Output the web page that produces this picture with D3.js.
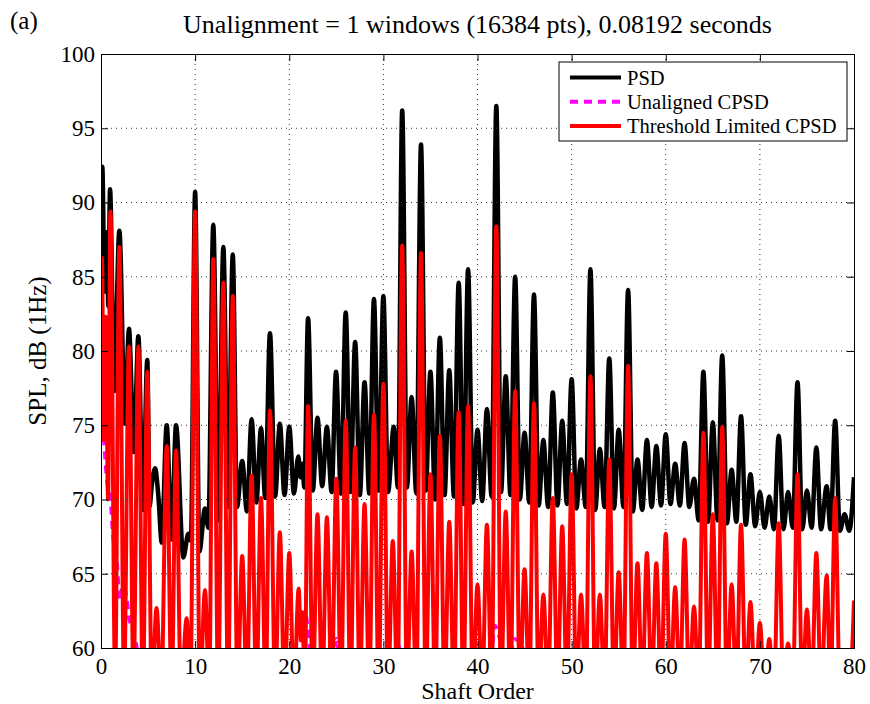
<!DOCTYPE html>
<html>
<head>
<meta charset="utf-8">
<script src="https://cdn.jsdelivr.net/npm/d3@7"></script>
<style>
  body { margin: 0; background: #fff; }
  svg { display: block; font-family: "Liberation Serif", "Times New Roman", serif; }
</style>
</head>
<body>
<div id="chart"></div>
<script>
// ===== DATA =====
const xTicks = [0, 10, 20, 30, 40, 50, 60, 70, 80];
const yTicks = [60, 65, 70, 75, 80, 85, 90, 95, 100];
const seriesNames = ["PSD", "Unaligned CPSD", "Threshold Limited CPSD"];
const titleText = "Unalignment = 1 windows (16384 pts), 0.08192 seconds";

// [shaft order, dB] peaks and troughs
const psd = [
  [0, 80], [0.14, 92.4], [0.38, 84], [0.6, 88], [0.78, 83], [0.96, 90.9], [1.4, 77.3], [1.95, 88.1],
  [2.55, 75.1], [2.97, 81.5], [3.5, 73.2], [3.97, 81.0], [4.45, 69.3], [4.92, 79.4], [5.15, 69.5],
  [5.4, 71], [5.74, 72.1], [6.1, 70.2], [6.45, 67.1], [6.98, 75.0], [7.5, 67.3], [7.97, 75.0],
  [8.75, 66.1], [9.28, 67.7], [9.55, 67.2], [10.0, 90.7], [10.45, 66.5], [11.05, 69.4], [11.4, 68.1],
  [11.93, 88.5], [12.46, 68.6], [13.0, 87.0], [13.5, 69.5], [14.0, 86.5], [14.45, 69.5], [15.0, 72.6],
  [15.5, 69.2], [16.0, 75.4], [16.5, 69.8], [17.0, 74.8], [17.45, 70.1], [17.95, 81.2], [18.5, 70.2],
  [19.0, 75.1], [19.5, 70.3], [20.0, 74.9], [20.5, 70.4], [20.96, 72.9], [21.2, 71.5], [21.4, 72.4],
  [21.6, 70.8], [22.0, 82.2], [22.5, 70.6], [23.0, 75.5], [23.5, 70.9], [24.0, 74.9], [24.5, 70.5],
  [24.97, 78.6], [25.5, 70.4], [26.0, 82.6], [26.5, 70.5], [27.0, 80.6], [27.5, 70.3], [28.0, 77.9],
  [28.5, 70.4], [29.0, 83.5], [29.5, 70.6], [30.0, 83.7], [30.5, 70.5], [31.1, 74.9], [31.55, 70.8],
  [32.0, 96.2], [32.5, 70.8], [33.0, 76.9], [33.5, 70.4], [34.0, 93.9], [34.5, 70.6], [35.0, 78.6],
  [35.5, 70.0], [36.0, 80.9], [36.5, 70.3], [37.0, 78.7], [37.5, 70.2], [38.0, 84.6], [38.5, 69.7],
  [39.0, 85.5], [39.5, 69.8], [40.0, 74.7], [40.5, 69.9], [41.0, 76.1], [41.5, 70.2], [42.0, 96.5],
  [42.5, 70.5], [43.0, 78.3], [43.5, 70.3], [44.0, 85.0], [44.5, 70.0], [45.0, 74.5], [45.5, 69.8],
  [46.0, 83.8], [46.5, 69.6], [47.0, 74.0], [47.5, 69.5], [48.0, 77.2], [48.5, 69.6], [49.0, 75.3],
  [49.5, 69.7], [50.0, 78.1], [50.5, 69.4], [51.0, 72.7], [51.5, 69.5], [52.0, 85.5], [52.5, 69.3],
  [53.0, 73.4], [53.5, 69.5], [54.0, 79.5], [54.5, 69.4], [55.0, 74.7], [55.5, 69.5], [56.0, 84.1],
  [56.5, 69.2], [57.0, 72.7], [57.5, 69.3], [58.0, 74.0], [58.5, 69.5], [59.0, 73.6], [59.5, 69.6],
  [60.0, 74.4], [60.5, 69.7], [61.0, 72.4], [61.5, 69.6], [62.0, 73.8], [62.5, 69.5], [63.0, 71.4],
  [63.5, 68.6], [64.0, 78.6], [64.5, 68.5], [65.0, 75.2], [65.5, 68.6], [66.0, 79.7], [66.5, 68.4],
  [67.0, 72.0], [67.5, 68.5], [68.0, 75.6], [68.5, 68.3], [69.0, 71.7], [69.5, 68.2], [70.0, 70.5],
  [70.5, 68.1], [71.0, 70.2], [71.5, 68.0], [72.0, 74.3], [72.5, 68.0], [73.0, 70.5], [73.5, 68.1],
  [74.0, 77.9], [74.5, 68.0], [75.0, 70.6], [75.5, 68.1], [76.0, 73.5], [76.5, 68.0], [77.1, 70.9],
  [77.5, 68.0], [78.0, 75.3], [78.5, 67.9], [79.0, 69.0], [79.5, 67.9], [80.0, 71.5]
];

const unaligned = [
  [0, 77], [0.1, 76.8], [0.35, 73.8], [0.7, 71], [1.0, 70.2], [1.3, 67.5], [1.6, 66.5], [2.0, 63.2],
  [2.3, 64.2], [2.6, 63.8], [3.0, 62.0], [3.4, 61.2], [3.8, 60.0], [4.3, 58.5], [5, 57], [20.8, 57],
  [21.3, 61], [21.7, 62.2], [22.2, 60], [22.6, 57], [24.4, 57], [25, 60.6], [25.6, 57], [30.8, 57],
  [31.5, 60.5], [32.2, 57], [41.2, 57], [41.8, 61.5], [42.5, 60.3], [43.3, 57], [43.8, 60.6],
  [44.6, 60.4], [45.5, 57], [80, 57]
];

const threshold = [
  [0, 79], [0.1, 86.3], [0.3, 74], [0.5, 82.3], [0.75, 70], [1.0, 89.4], [1.5, 58], [1.95, 87.0],
  [2.45, 58], [2.97, 80.3], [3.45, 58], [3.97, 80.3], [4.45, 57], [4.92, 78.6], [5.4, 57], [5.9, 62.7],
  [6.4, 57], [6.98, 73.6], [7.5, 57], [7.97, 73.3], [8.5, 57], [9.1, 62.0], [9.5, 57], [10.0, 89.4],
  [10.5, 57], [11.05, 63.9], [11.5, 57], [11.93, 86.2], [12.45, 57], [13.0, 84.6], [13.5, 57],
  [14.0, 83.7], [14.5, 57], [15.0, 66.2], [15.5, 57], [16.0, 71.6], [16.5, 57], [17.0, 70.1],
  [17.5, 57], [17.95, 76.0], [18.5, 57], [19.0, 67.8], [19.5, 57], [20.0, 66.4], [20.5, 57],
  [21.0, 64.0], [21.25, 60.5], [21.4, 62.4], [21.65, 57], [22.0, 76.3], [22.5, 57], [23.0, 69.0],
  [23.5, 57], [24.0, 68.8], [24.5, 57], [25.0, 71.4], [25.5, 57], [26.0, 75.3], [26.5, 57],
  [27.0, 73.5], [27.5, 57], [28.0, 69.7], [28.5, 57], [29.0, 75.7], [29.5, 57], [30.0, 77.8],
  [30.5, 57], [31.0, 67.2], [31.5, 57], [32.0, 87.1], [32.5, 57], [33.0, 66.5], [33.5, 57],
  [34.0, 86.6], [34.5, 57], [35.0, 71.7], [35.5, 57], [36.0, 74.3], [36.5, 57], [37.0, 68.5],
  [37.5, 57], [38.0, 75.9], [38.5, 57], [39.0, 76.3], [39.5, 57], [40.0, 64.3], [40.5, 57],
  [41.0, 68.3], [41.5, 57], [42.0, 88.4], [42.5, 57], [43.0, 69.2], [43.5, 57], [44.0, 77.3],
  [44.5, 57], [45.0, 65.3], [45.5, 57], [46.0, 76.5], [46.5, 57], [47.0, 63.6], [47.5, 57],
  [48.0, 70.1], [48.5, 57], [49.0, 68.2], [49.5, 57], [50.0, 71.7], [50.5, 57], [51.0, 63.6],
  [51.5, 57], [52.0, 78.3], [52.5, 57], [53.0, 63.6], [53.5, 57], [54.0, 72.7], [54.5, 57],
  [55.0, 65.1], [55.5, 57], [56.0, 79.0], [56.5, 57], [57.0, 65.7], [57.5, 57], [58.0, 66.4],
  [58.5, 57], [59.0, 65.7], [59.5, 57], [60.0, 67.7], [60.5, 57], [61.0, 64.1], [61.5, 57],
  [62.0, 67.3], [62.5, 57], [63.0, 62.8], [63.5, 57], [64.0, 74.5], [64.5, 57], [65.0, 69.0],
  [65.5, 57], [66.0, 74.9], [66.5, 57], [67.0, 64.3], [67.5, 57], [68.0, 68.3], [68.5, 57],
  [69.0, 63.1], [69.5, 57], [70.0, 61.7], [70.5, 57], [71.0, 60.6], [71.5, 57], [72.0, 68.4],
  [72.5, 57], [73.0, 60.3], [73.5, 57], [74.0, 71.7], [74.5, 57], [75.0, 62.6], [75.5, 57],
  [76.0, 66.4], [76.5, 57], [77.1, 64.9], [77.5, 57], [78.0, 70.1], [78.5, 57], [79.0, 59.5],
  [79.5, 57], [80.0, 63.2]
];

// ===== LAYOUT =====
const W = 870, H = 704;
const margin = { top: 54, right: 16, bottom: 56, left: 101 };
const width = W - margin.left - margin.right;
const height = H - margin.top - margin.bottom;

const svg = d3.select('#chart').append('svg')
  .attr('width', W)
  .attr('height', H);

const g = svg.append('g')
  .attr('transform', `translate(${margin.left},${margin.top})`);

const x = d3.scaleLinear().domain([0, 80]).range([0, width]);
const y = d3.scaleLinear().domain([60, 100]).range([height, 0]);

g.append('clipPath').attr('id', 'plot-clip')
  .append('rect').attr('width', width).attr('height', height);

const line = d3.line()
  .x(d => x(d[0]))
  .y(d => y(d[1]))
  .curve(d3.curveMonotoneX);

const plot = g.append('g').attr('clip-path', 'url(#plot-clip)');

// series, drawn in MATLAB plot order
plot.append('path').datum(psd)
  .attr('d', line).attr('fill', 'none')
  .attr('stroke', '#000').attr('stroke-width', 4.5).attr('stroke-linejoin', 'round');

plot.append('path').datum(unaligned)
  .attr('d', line).attr('fill', 'none')
  .attr('stroke', '#ff00ff').attr('stroke-width', 4).attr('stroke-dasharray', '8,6');

plot.append('path').datum(threshold)
  .attr('d', line).attr('fill', 'none')
  .attr('stroke', '#ff0000').attr('stroke-width', 4).attr('stroke-linejoin', 'round');

// dotted grid on top of the data
const grid = g.append('g').attr('fill', 'none').attr('stroke', '#333')
  .attr('stroke-width', 1).attr('stroke-dasharray', '1,4');
grid.selectAll('.vg').data(xTicks.slice(1, -1)).join('line')
  .attr('x1', d => x(d)).attr('x2', d => x(d)).attr('y1', 0).attr('y2', height);
grid.selectAll('.hg').data(yTicks.slice(1, -1)).join('line')
  .attr('y1', d => y(d)).attr('y2', d => y(d)).attr('x1', 0).attr('x2', width);

// axes with inward ticks, MATLAB style
const tickLen = 7;
const xAxis = g.append('g').attr('transform', `translate(0,${height})`)
  .call(d3.axisBottom(x).tickValues(xTicks).tickSize(-tickLen).tickPadding(10));
const xAxisTop = g.append('g')
  .call(d3.axisTop(x).tickValues(xTicks).tickSize(-tickLen).tickFormat(''));
const yAxis = g.append('g')
  .call(d3.axisLeft(y).tickValues(yTicks).tickSize(-tickLen).tickPadding(6));
const yAxisRight = g.append('g').attr('transform', `translate(${width},0)`)
  .call(d3.axisRight(y).tickValues(yTicks).tickSize(-tickLen).tickFormat(''));

[xAxis, xAxisTop, yAxis, yAxisRight].forEach(a => {
  a.select('.domain').attr('stroke', '#000').attr('stroke-width', 1);
  a.selectAll('.tick line').attr('stroke', '#000');
  a.selectAll('text')
    .attr('font-family', '"Liberation Serif", "Times New Roman", serif')
    .attr('font-size', 23).attr('fill', '#000');
});

// labels
svg.append('text')
  .attr('x', margin.left + width / 2).attr('y', 33)
  .attr('text-anchor', 'middle').attr('font-size', 26)
  .text(titleText);

svg.append('text')
  .attr('x', 10).attr('y', 29).attr('font-size', 25)
  .text('(a)');

svg.append('text')
  .attr('x', margin.left + width / 2).attr('y', 699)
  .attr('text-anchor', 'middle').attr('font-size', 24)
  .text('Shaft Order');

svg.append('text')
  .attr('transform', `translate(46,${margin.top + height / 2}) rotate(-90)`)
  .attr('text-anchor', 'middle').attr('font-size', 25)
  .text('SPL, dB (1Hz)');

// legend
const legend = svg.append('g').attr('transform', 'translate(559,62)');
legend.append('rect')
  .attr('width', 288).attr('height', 79)
  .attr('fill', '#fff').attr('stroke', '#000').attr('stroke-width', 1);

const legendStyle = [
  { color: '#000', dash: null },
  { color: '#ff00ff', dash: '8,6' },
  { color: '#ff0000', dash: null }
];

const rows = legend.selectAll('.row').data(seriesNames).join('g')
  .attr('transform', (d, i) => `translate(0,${15.5 + i * 24.2})`);
rows.append('line')
  .attr('x1', 11).attr('x2', 62)
  .attr('stroke', (d, i) => legendStyle[i].color)
  .attr('stroke-width', 4)
  .attr('stroke-dasharray', (d, i) => legendStyle[i].dash);
rows.append('text')
  .attr('x', 68).attr('dy', '0.35em').attr('font-size', 20.5)
  .text(d => d);
</script>
</body>
</html>
